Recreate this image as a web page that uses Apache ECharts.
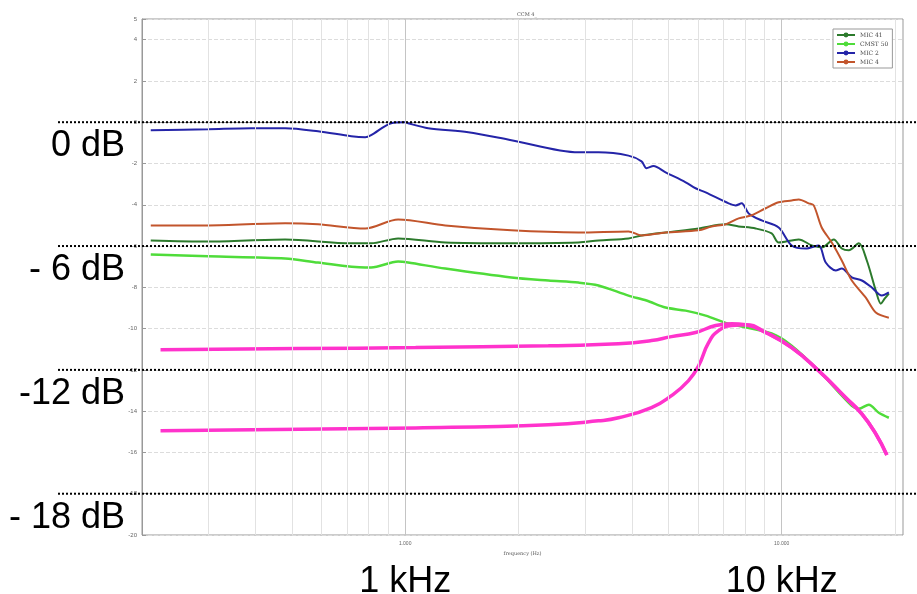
<!DOCTYPE html>
<html>
<head>
<meta charset="utf-8">
<script src="https://cdn.jsdelivr.net/npm/echarts@6/dist/echarts.min.js"></script>
<style>html,body{margin:0;padding:0;background:#fff;}#c{width:917px;height:594px;}</style>
</head>
<body>
<div id="c"></div>
<script>
// ---- data: [frequency Hz, level dB] ----
const mic41 = [[211,-5.73],[300,-5.78],[480,-5.68],[719,-5.87],[812,-5.87],[958,-5.63],[1278,-5.83],[1914,-5.87],[2885,-5.83],[3262,-5.73],[3918,-5.63],[4244,-5.49],[4916,-5.34],[6016,-5.15],[7097,-4.95],[7686,-5.05],[8530,-5.15],[9406,-5.39],[9817,-5.83],[11098,-5.68],[12018,-5.97],[12773,-6.07],[13750,-5.68],[14441,-6.12],[15074,-6.21],[16026,-5.87],[16831,-6.7],[17783,-8.16],[18336,-8.79],[18790,-8.54],[19260,-8.3]];
const cmst50 = [[211,-6.41],[300,-6.5],[480,-6.6],[587,-6.8],[783,-7.04],[812,-7.04],[958,-6.75],[1018,-6.8],[1278,-7.09],[1914,-7.52],[2401,-7.67],[2885,-7.77],[3262,-7.91],[3918,-8.4],[4375,-8.64],[4916,-8.98],[5557,-9.13],[6281,-9.37],[7228,-9.76],[9406,-10.24],[10631,-10.83],[12540,-12.04],[15354,-13.74],[16026,-13.88],[17038,-13.69],[18113,-14.08],[19260,-14.32]];
const mic2 = [[211,-0.39],[300,-0.34],[390,-0.29],[480,-0.29],[587,-0.44],[719,-0.68],[783,-0.73],[812,-0.63],[918,-0.05],[1000,0],[1018,-0.05],[1151,-0.29],[1471,-0.49],[1914,-0.87],[2885,-1.46],[3262,-1.46],[3918,-1.62],[4244,-1.9],[4375,-2.23],[4566,-2.12],[4916,-2.43],[5557,-2.91],[5906,-3.2],[6281,-3.4],[7228,-3.93],[7546,-4.03],[7828,-3.93],[8172,-4.42],[8848,-4.76],[9817,-5.1],[10631,-5.97],[11584,-6.12],[12540,-5.97],[13092,-6.8],[13918,-7.18],[14441,-7.09],[15354,-7.52],[16324,-7.67],[17353,-8.01],[18450,-8.4],[19260,-8.25]];
const mic4 = [[211,-5.0],[300,-5.0],[480,-4.9],[587,-4.95],[783,-5.15],[958,-4.71],[1278,-5.0],[1914,-5.24],[2885,-5.34],[3918,-5.29],[4244,-5.49],[4916,-5.34],[6016,-5.24],[6515,-5.05],[7097,-4.95],[7686,-4.66],[8323,-4.51],[9067,-4.17],[9817,-3.88],[10631,-3.79],[11098,-3.74],[11799,-3.93],[12165,-4.03],[12773,-5.1],[13583,-5.83],[14441,-6.7],[15354,-7.67],[16727,-8.5],[17783,-9.22],[19260,-9.47]];
const modelUpper = [[224,-11.02],[519,-10.97],[1066,-10.92],[2401,-10.83],[3686,-10.73],[4511,-10.58],[5097,-10.39],[5906,-10.19],[6676,-9.85],[7362,-9.76],[8023,-9.81],[9067,-10.19],[10631,-10.92],[12540,-12.04],[14799,-13.35],[16324,-14.13],[17783,-15.1],[19025,-16.12]];
const modelLower = [[224,-14.95],[1066,-14.81],[2401,-14.66],[3262,-14.47],[3686,-14.32],[4511,-13.83],[5097,-13.25],[5657,-12.52],[6016,-11.8],[6396,-10.68],[6799,-10.1],[7362,-9.85],[8023,-9.81],[9067,-10.19],[10631,-10.92],[12540,-12.04],[14799,-13.35],[16324,-14.13],[17783,-15.1],[19025,-16.12]];

// ---- axes / labels ----
const gridFreqs = [300,400,500,600,700,800,900,1000,2000,3000,4000,5000,6000,7000,8000,9000,10000,20000];
const majorFreqs = [1000,10000];
const xTickLabels = {1000:'1.000', 10000:'10.000'};
const refLevels = [0,-6,-12,-18];
const refLabels = ['0 dB','- 6 dB','-12 dB','- 18 dB'];
const bigFreqs = [1000,10000];
const bigFreqLabels = ['1 kHz','10 kHz'];
const legendNames = ['MIC 41','CMST 50','MIC 2','MIC 4'];

const chart = echarts.init(document.getElementById('c'));
const lineS = (name, data, color, w, smooth, z) => ({
  name, type:'line', data, showSymbol:false, symbol:'none', smooth,
  lineStyle:{color, width:w}, itemStyle:{color}, z, animation:false
});

chart.setOption({
  animation:false,
  backgroundColor:'#fff',
  title:{text:'CCM 4_', left:522, top:7, textAlign:'center',
    textStyle:{fontSize:5, fontWeight:'normal', color:'#555', fontFamily:'DejaVu Serif'}},
  legend:{data:legendNames, orient:'vertical', left:833, top:29,
    itemWidth:18, itemHeight:6, itemGap:3, padding:[3,4,3,3],
    borderColor:'#999', borderWidth:1, backgroundColor:'#fff',
    textStyle:{fontSize:6, color:'#444', fontFamily:'DejaVu Serif'}},
  grid:{left:142, right:14, top:19, bottom:59, show:true, borderColor:'#999', borderWidth:1},
  xAxis:{type:'log', logBase:10, min:200, max:21000, splitNumber:2,
    name:'frequency (Hz)', nameLocation:'middle', nameGap:15,
    nameTextStyle:{fontSize:5, color:'#555', fontFamily:'DejaVu Serif'},
    axisLine:{show:true, lineStyle:{color:'#999'}},
    axisTick:{show:false}, splitLine:{show:false},
    axisLabel:{fontSize:5, color:'#666', margin:6, showMinLabel:false, showMaxLabel:false,
      formatter:v => xTickLabels[Math.round(v)] || ''}},
  yAxis:{type:'value', min:-20, max:5, interval:2,
    axisLine:{show:true, lineStyle:{color:'#999'}},
    axisTick:{show:true, inside:true, length:4, lineStyle:{color:'#999'}},
    splitLine:{show:true, lineStyle:{color:'#dcdcdc', type:'dashed', width:1}},
    axisLabel:{fontSize:6, color:'#666', margin:5}},
  series:[
    {name:'grid', type:'line', data:[], z:1, silent:true, animation:false,
      markLine:{silent:true, symbol:'none', label:{show:false}, animation:false,
        data: gridFreqs.map(f => ({xAxis:f, lineStyle:{color: majorFreqs.includes(f)?'#c4c4c4':'#e2e2e2', type:'solid', width:1}}))}},
    lineS('MIC 41', mic41, '#2c7a2c', 2, 0.3, 3),
    lineS('CMST 50', cmst50, '#4fdc3a', 2.5, 0.3, 3),
    lineS('MIC 2', mic2, '#2424a8', 2, 0.3, 3),
    lineS('MIC 4', mic4, '#c2552c', 2, 0.3, 3),
    lineS('model A', modelUpper, '#ff33cc', 3.5, 0.5, 4),
    lineS('model B', modelLower, '#ff33cc', 3.5, 0.5, 4)
  ]
});

// annotations: dotted reference lines and big labels
const g = [];
refLevels.forEach((lv, i) => {
  const y = chart.convertToPixel({yAxisIndex:0}, lv);
  g.push({type:'line', shape:{x1:58, y1:y, x2:917, y2:y}, z:100,
    style:{stroke:'#000', lineWidth:2, lineDash:[2,2]}});
  g.push({type:'text', x:125, y:y+24, z:100,
    style:{text:refLabels[i], fontSize:36, fontFamily:'Liberation Sans, Arial, sans-serif',
      fill:'#000', align:'right', verticalAlign:'middle'}});
});
const yb = chart.convertToPixel({yAxisIndex:0}, -20);
bigFreqs.forEach((f, i) => {
  const x = chart.convertToPixel({xAxisIndex:0}, f);
  g.push({type:'text', x:x, y:yb+47, z:100,
    style:{text:bigFreqLabels[i], fontSize:36, fontFamily:'Liberation Sans, Arial, sans-serif',
      fill:'#000', align:'center', verticalAlign:'middle'}});
});
chart.setOption({graphic:g});
</script>
</body>
</html>
